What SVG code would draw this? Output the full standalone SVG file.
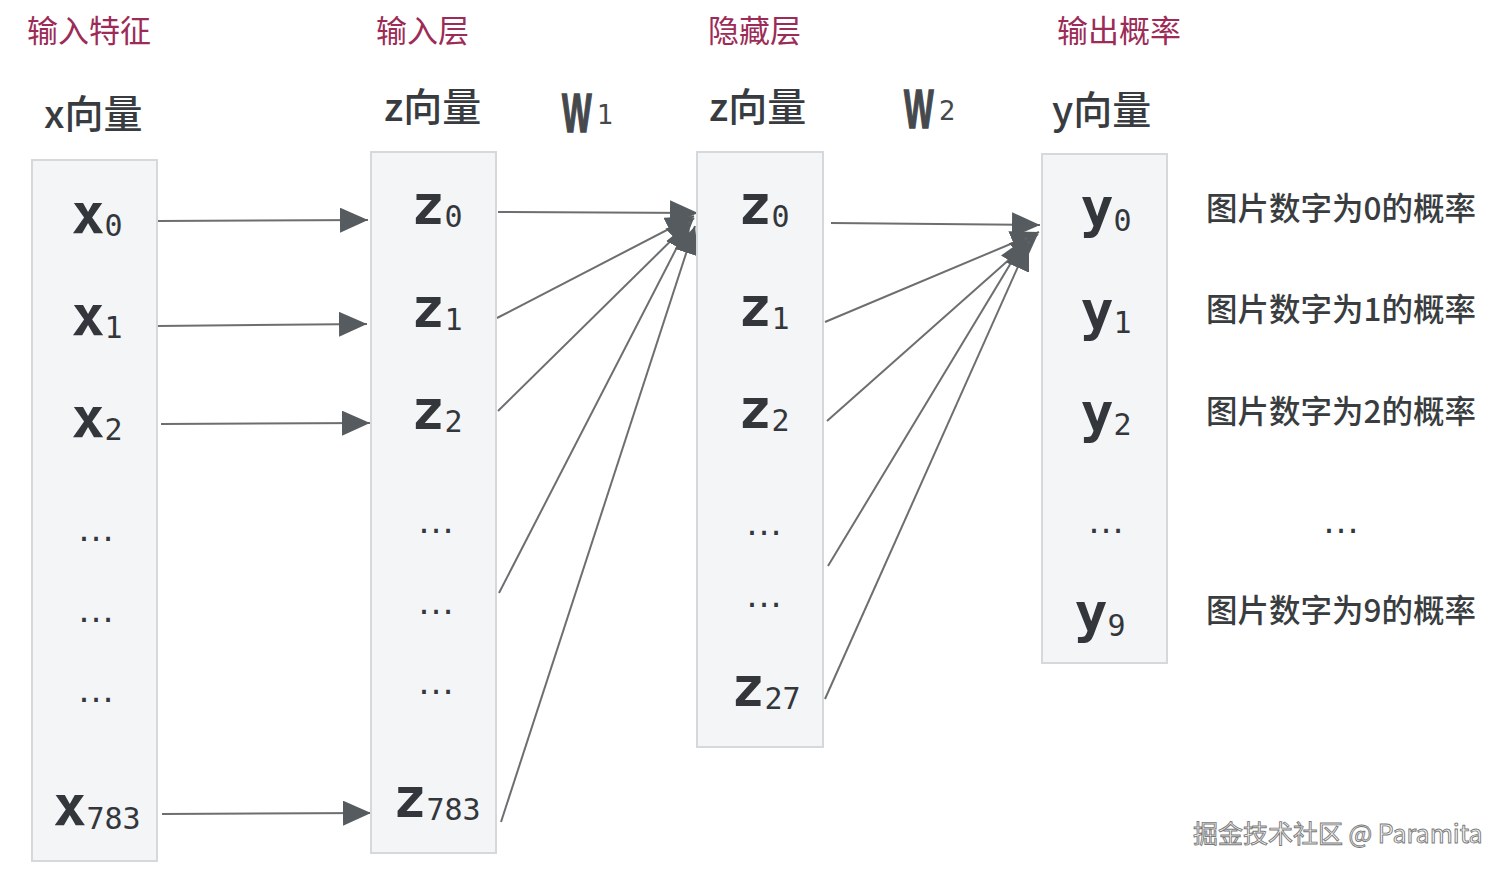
<svg xmlns="http://www.w3.org/2000/svg" width="1510" height="872" viewBox="0 0 1510 872">
<style>
.hdr{font-family:"Noto Sans CJK SC","Noto Sans",sans-serif;font-size:31px;fill:#9c2c57}
.vec{font-family:"Noto Sans CJK SC","Noto Sans",sans-serif;font-size:39px;font-weight:500;fill:#383c40}
.box{fill:#f3f5f7;stroke:#d6d9dc;stroke-width:2}
.lbl{font-family:"DejaVu Sans Mono",monospace;font-size:55px;font-weight:bold;fill:#33373b;text-anchor:middle}
.sub{font-size:30px;font-weight:normal}
.dots{font-family:"Liberation Sans",sans-serif;font-size:38px;fill:#33373b;text-anchor:middle}
.prob{font-family:"Noto Sans CJK SC","Noto Sans",sans-serif;font-size:31.5px;font-weight:500;fill:#3a3d40}
.w{font-family:"Liberation Sans",sans-serif;font-weight:bold;font-size:56px;fill:#45494d;stroke:#45494d;stroke-width:1.6}
.wsub{font-family:"DejaVu Sans",sans-serif;font-size:26px;fill:#45494d}
.wm{font-family:"Noto Sans CJK SC","Noto Sans",sans-serif;font-size:25px;fill:#f6f6f6;stroke:#7a7a7a;stroke-width:0.9}
.cn{fill:none;stroke:#6c6e70;stroke-width:2;marker-end:url(#ah)}
</style>
<defs>
<marker id="ah" markerUnits="userSpaceOnUse" markerWidth="28" markerHeight="25" refX="28" refY="12.5" orient="auto" viewBox="0 0 28 25">
<path d="M0,0 L28,12.5 L0,25 Z" fill="#565b5f"/>
</marker>
</defs>
<rect width="1510" height="872" fill="#ffffff"/>

<g id="headers">
<text class="hdr" x="27" y="42">输入特征</text>
<text class="hdr" x="376" y="42">输入层</text>
<text class="hdr" x="708" y="42">隐藏层</text>
<text class="hdr" x="1057" y="42">输出概率</text>
<text class="vec" x="44" y="128">x向量</text>
<text class="vec" x="384" y="121">z向量</text>
<text class="vec" x="709" y="121">z向量</text>
<text class="vec" x="1052" y="124">y向量</text>
</g>

<g id="w1">
<text class="w" transform="translate(562,132) scale(0.56,1)">W</text>
<text class="wsub" x="597" y="124">1</text>
</g>
<g id="w2">
<text class="w" transform="translate(904,128) scale(0.56,1)">W</text>
<text class="wsub" x="939" y="120">2</text>
</g>

<g id="connectors">
<path class="cn" d="M158,221 L368,220"/>
<path class="cn" d="M157,326 L367,324"/>
<path class="cn" d="M161,424 L370,423"/>
<path class="cn" d="M162,814 L371,813"/>
<path class="cn" d="M498,212 L698,213"/>
<path class="cn" d="M497,318 L694,216"/>
<path class="cn" d="M498,411 L694,218"/>
<path class="cn" d="M499,593 L690,222"/>
<path class="cn" d="M501,822 L695,226"/>
<path class="cn" d="M831,223 L1040,225"/>
<path class="cn" d="M825,322 L1039,232"/>
<path class="cn" d="M827,421 L1038,234"/>
<path class="cn" d="M828,566 L1026,238"/>
<path class="cn" d="M825,699 L1029,242"/>
</g>

<g id="x-vector">
<rect class="box" x="32" y="160" width="125" height="701"/>
<text class="lbl" x="97" y="233">x<tspan class="sub" dy="3">0</tspan></text>
<text class="lbl" x="97" y="335">x<tspan class="sub" dy="3">1</tspan></text>
<text class="lbl" x="97" y="437">x<tspan class="sub" dy="3">2</tspan></text>
<text class="dots" x="96" y="541">…</text>
<text class="dots" x="96" y="622">…</text>
<text class="dots" x="96" y="702">…</text>
<text class="lbl" x="97" y="825">x<tspan class="sub" dy="4">783</tspan></text>
</g>

<g id="input-layer">
<rect class="box" x="371" y="152" width="125" height="701"/>
<text class="lbl" x="437" y="224">z<tspan class="sub" dy="3">0</tspan></text>
<text class="lbl" x="437" y="327">z<tspan class="sub" dy="3">1</tspan></text>
<text class="lbl" x="437" y="429">z<tspan class="sub" dy="3">2</tspan></text>
<text class="dots" x="436" y="533">…</text>
<text class="dots" x="436" y="614">…</text>
<text class="dots" x="436" y="694">…</text>
<text class="lbl" x="437" y="817">z<tspan class="sub" dy="3">783</tspan></text>
</g>

<g id="hidden-layer">
<rect class="box" x="697" y="152" width="126" height="595"/>
<text class="lbl" x="764" y="224">z<tspan class="sub" dy="3">0</tspan></text>
<text class="lbl" x="764" y="326">z<tspan class="sub" dy="3">1</tspan></text>
<text class="lbl" x="764" y="428">z<tspan class="sub" dy="3">2</tspan></text>
<text class="dots" x="764" y="535">…</text>
<text class="dots" x="764" y="607">…</text>
<text class="lbl" x="766" y="706">z<tspan class="sub" dy="3">27</tspan></text>
</g>

<g id="output-layer">
<rect class="box" x="1042" y="154" width="125" height="509"/>
<text class="lbl" x="1106" y="227">y<tspan class="sub" dy="4">0</tspan></text>
<text class="lbl" x="1106" y="330">y<tspan class="sub" dy="3">1</tspan></text>
<text class="lbl" x="1106" y="432">y<tspan class="sub" dy="3">2</tspan></text>
<text class="dots" x="1106" y="533">…</text>
<text class="lbl" x="1100" y="632">y<tspan class="sub" dy="4">9</tspan></text>
</g>

<g id="probabilities">
<text class="prob" x="1206" y="220">图片数字为0的概率</text>
<text class="prob" x="1206" y="321">图片数字为1的概率</text>
<text class="prob" x="1206" y="423">图片数字为2的概率</text>
<text class="dots" x="1341" y="533">…</text>
<text class="prob" x="1206" y="622">图片数字为9的概率</text>
</g>

<text class="wm" x="1193" y="843">掘金技术社区 @ Paramita</text>
</svg>
